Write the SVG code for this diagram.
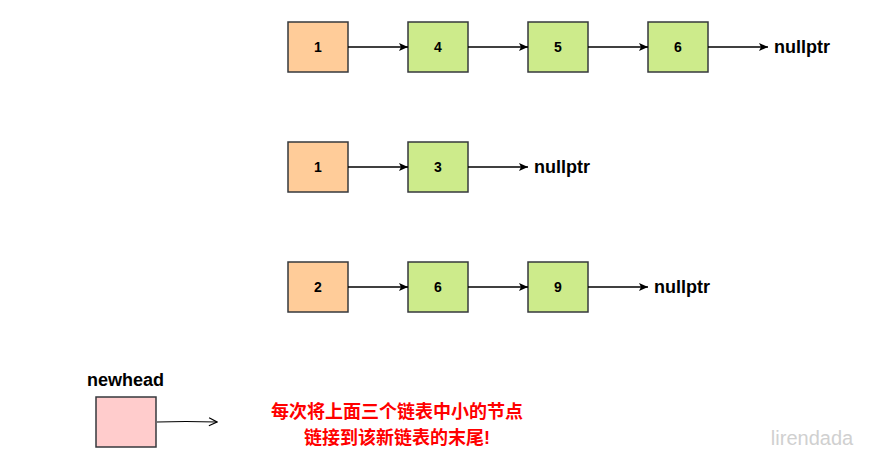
<svg xmlns="http://www.w3.org/2000/svg" width="887" height="468" viewBox="0 0 887 468">
<style>
.o{fill:#ffcc99;stroke:#36393d;stroke-width:1.5}
.g{fill:#cdeb8b;stroke:#36393d;stroke-width:1.5}
.p{fill:#ffcccc;stroke:#36393d;stroke-width:1.5}
.n{font-family:"Liberation Sans",sans-serif;font-weight:bold;font-size:14px;text-anchor:middle;fill:#000}
.l{font-family:"Liberation Sans",sans-serif;font-weight:bold;font-size:18px;fill:#000}
.c{stroke:#000;stroke-width:1.3;fill:none;marker-end:url(#a)}
.r{font-family:"Liberation Sans","Noto Sans CJK SC",sans-serif;font-weight:bold;font-size:18px;fill:#ff0000;text-anchor:middle}
</style>
<defs><marker id="a" markerWidth="10" markerHeight="8" refX="9" refY="4" orient="auto" markerUnits="userSpaceOnUse"><path d="M0,0 L9,4 L0,8 L2,4 Z" fill="#000"/></marker>
<marker id="b" markerWidth="10" markerHeight="10" refX="9" refY="5" orient="auto" markerUnits="userSpaceOnUse"><path d="M1,1 L9,5 L1,9" fill="none" stroke="#000" stroke-width="1.2"/></marker></defs>
<rect width="887" height="468" fill="#fff"/>
<g id="r1a"><rect class="o" x="288" y="22" width="60" height="50"/><text class="n" x="318" y="52">1</text></g>
<g id="r1b"><rect class="g" x="408" y="22" width="60" height="50"/><text class="n" x="438" y="52">4</text></g>
<g id="r1c"><rect class="g" x="528" y="22" width="60" height="50"/><text class="n" x="558" y="52">5</text></g>
<g id="r1d"><rect class="g" x="648" y="22" width="60" height="50"/><text class="n" x="678" y="52">6</text></g>
<g id="r1n"><text class="l" x="774" y="53">nullptr</text></g>
<g id="r2a"><rect class="o" x="288" y="142" width="60" height="50"/><text class="n" x="318" y="172">1</text></g>
<g id="r2b"><rect class="g" x="408" y="142" width="60" height="50"/><text class="n" x="438" y="172">3</text></g>
<g id="r2n"><text class="l" x="534" y="173">nullptr</text></g>
<g id="r3a"><rect class="o" x="288" y="262" width="60" height="50"/><text class="n" x="318" y="292">2</text></g>
<g id="r3b"><rect class="g" x="408" y="262" width="60" height="50"/><text class="n" x="438" y="292">6</text></g>
<g id="r3c"><rect class="g" x="528" y="262" width="60" height="50"/><text class="n" x="558" y="292">9</text></g>
<g id="r3n"><text class="l" x="654" y="293">nullptr</text></g>
<g id="nh"><text class="l" x="87" y="386">newhead</text><rect class="p" x="96" y="397" width="60" height="50"/></g>
<g id="connectors">
<path class="c" d="M348,47 H408"/><path class="c" d="M468,47 H528"/><path class="c" d="M588,47 H648"/><path class="c" d="M708,47 H768"/>
<path class="c" d="M348,167 H408"/><path class="c" d="M468,167 H528"/>
<path class="c" d="M348,287 H408"/><path class="c" d="M468,287 H528"/><path class="c" d="M588,287 H648"/>
<path d="M157,422 Q185,421 217,422" stroke="#000" stroke-width="1.2" fill="none" marker-end="url(#b)"/>
</g>
<text class="r" x="397" y="418">每次将上面三个链表中小的节点</text>
<text class="r" x="397" y="444">链接到该新链表的末尾!</text>
<text x="812" y="445" font-family="Liberation Sans,sans-serif" font-size="20" fill="#d0d0d0" text-anchor="middle">lirendada</text>
</svg>
